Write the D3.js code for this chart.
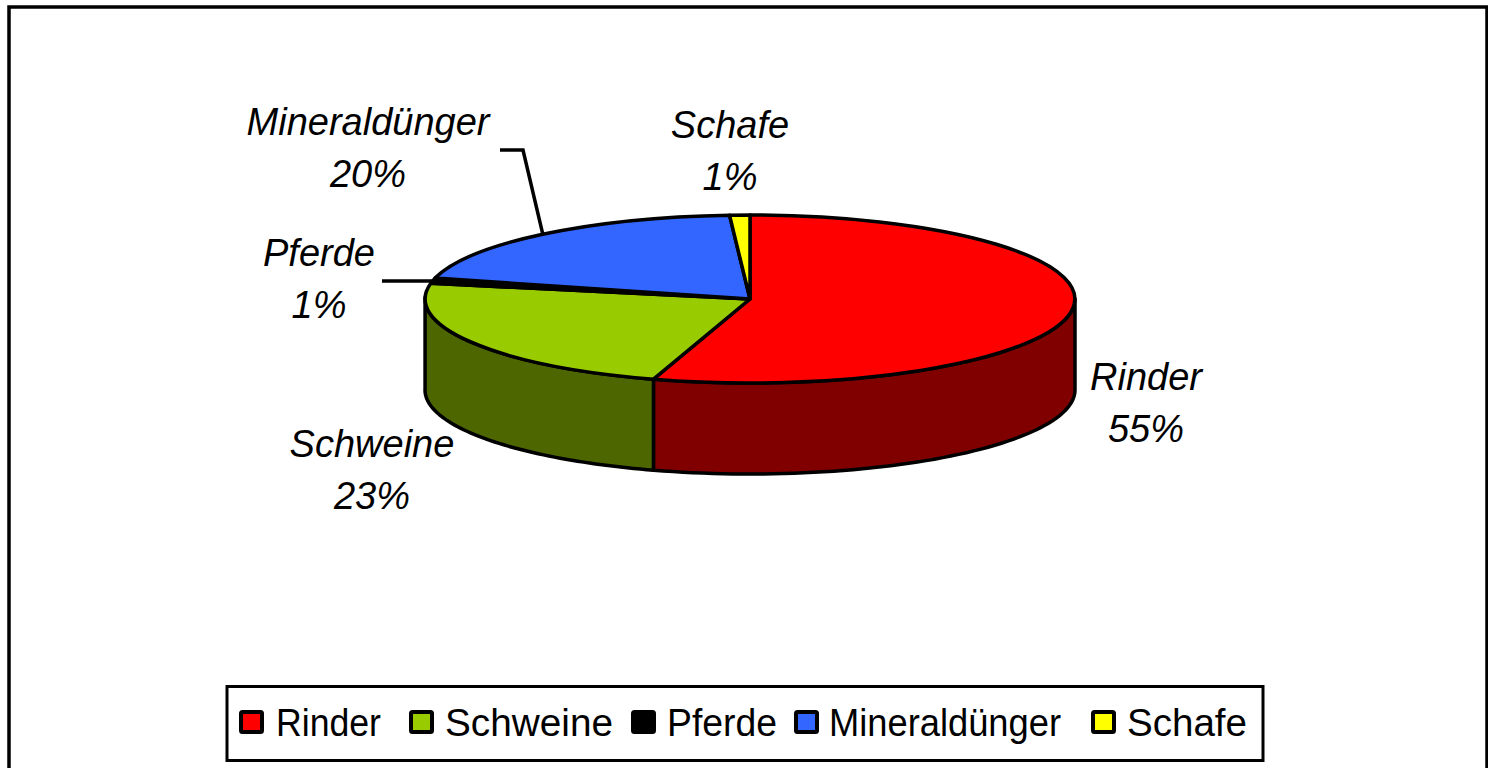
<!DOCTYPE html>
<html><head><meta charset="utf-8">
<script src="https://cdn.jsdelivr.net/npm/d3@7/dist/d3.min.js"></script>
<style>html,body{margin:0;padding:0;background:#fff;overflow:hidden}svg{display:block}text{font-family:"Liberation Sans",Arial,sans-serif;fill:#000}</style>
</head><body><svg id="c" width="1488" height="768"></svg>
<script>
const categories=["Rinder","Schweine","Pferde","Mineraldünger","Schafe"];
const values=[54.8,23.2,1,20,1];
const topColors=["#ff0000","#99cc00","#000000","#3366ff","#ffff00"];
const sideColors=["#800000","#4d6600","#000000","#1a3380","#808000"];

const cx=750,cy=299,rx=325,ry=84,depth=91;
const svg=d3.select("#c");
svg.append("rect").attr("x",9).attr("y",7).attr("width",1478).attr("height",790)
  .attr("fill","#fff").attr("stroke","#000").attr("stroke-width",3.5);

const pie=d3.pie().sort(null).value(d=>d)(values);
const px=a=>cx+rx*Math.sin(a), py=a=>cy-ry*Math.cos(a);
const line=d3.line().x(d=>d[0]).y(d=>d[1]);

// side walls: only the front half of the rim shows
const lo=Math.PI/2, hi=Math.PI*1.5+0.02;
pie.forEach((p,i)=>{
  const a0=Math.max(p.startAngle,lo), a1=Math.min(p.endAngle,hi);
  if(a1<=a0) return;
  const ang=d3.range(0,61).map(k=>a0+(a1-a0)*k/60);
  const pts=ang.map(a=>[px(a),py(a)]).concat(ang.slice().reverse().map(a=>[px(a),py(a)+depth]));
  svg.append("path").attr("d",line(pts)+"Z").attr("fill",sideColors[i])
    .attr("stroke","#000").attr("stroke-width",3.5).attr("stroke-linejoin","round");
});

// top face
const arc=d3.arc().innerRadius(0).outerRadius(1);
const g=svg.append("g").attr("transform",`translate(${cx},${cy}) scale(${rx},${ry})`);
g.selectAll("path").data(pie).join("path").attr("d",arc)
  .attr("fill",(d,i)=>topColors[i]).attr("stroke","#000").attr("stroke-width",3.5)
  .attr("stroke-linejoin","round").attr("vector-effect","non-scaling-stroke");

// leader lines
const mid=p=>(p.startAngle+p.endAngle)/2;
const leaders=[[2,[[382,281]]],[3,[[500,150],[523,150]]]];
leaders.forEach(([i,start])=>{
  const a=mid(pie[i]);
  svg.append("path").attr("d",line(start.concat([[px(a),start.length==1?start[0][1]:py(a)]]))).attr("fill","none")
    .attr("stroke","#000").attr("stroke-width",3.5);
});

// data labels
const labelPos=[[1146,390],[372,457],[319,266],[368,135],[730,138]];
categories.forEach((c,i)=>{
  const t=svg.append("text").attr("text-anchor","middle").attr("font-style","italic").attr("font-size",38);
  t.append("tspan").attr("x",labelPos[i][0]).attr("y",labelPos[i][1]).text(c);
  t.append("tspan").attr("x",labelPos[i][0]).attr("y",labelPos[i][1]+51.5).text(Math.round(values[i])+"%");
});

// legend
svg.append("rect").attr("x",227).attr("y",686.5).attr("width",1036).attr("height",74)
  .attr("fill","#fff").attr("stroke","#000").attr("stroke-width",3);
const legendX=[[241,276,105],[411,445,168],[633,667,110],[796,829,232],[1093,1127,120]];
categories.forEach((c,i)=>{
  svg.append("rect").attr("x",legendX[i][0]).attr("y",712).attr("width",21).attr("height",20)
    .attr("rx",1.5).attr("fill",topColors[i]).attr("stroke","#000").attr("stroke-width",4);
  svg.append("text").attr("x",legendX[i][1]).attr("y",736).attr("font-size",38)
    .attr("textLength",legendX[i][2]).attr("lengthAdjust","spacingAndGlyphs").text(c);
});
</script></body></html>
